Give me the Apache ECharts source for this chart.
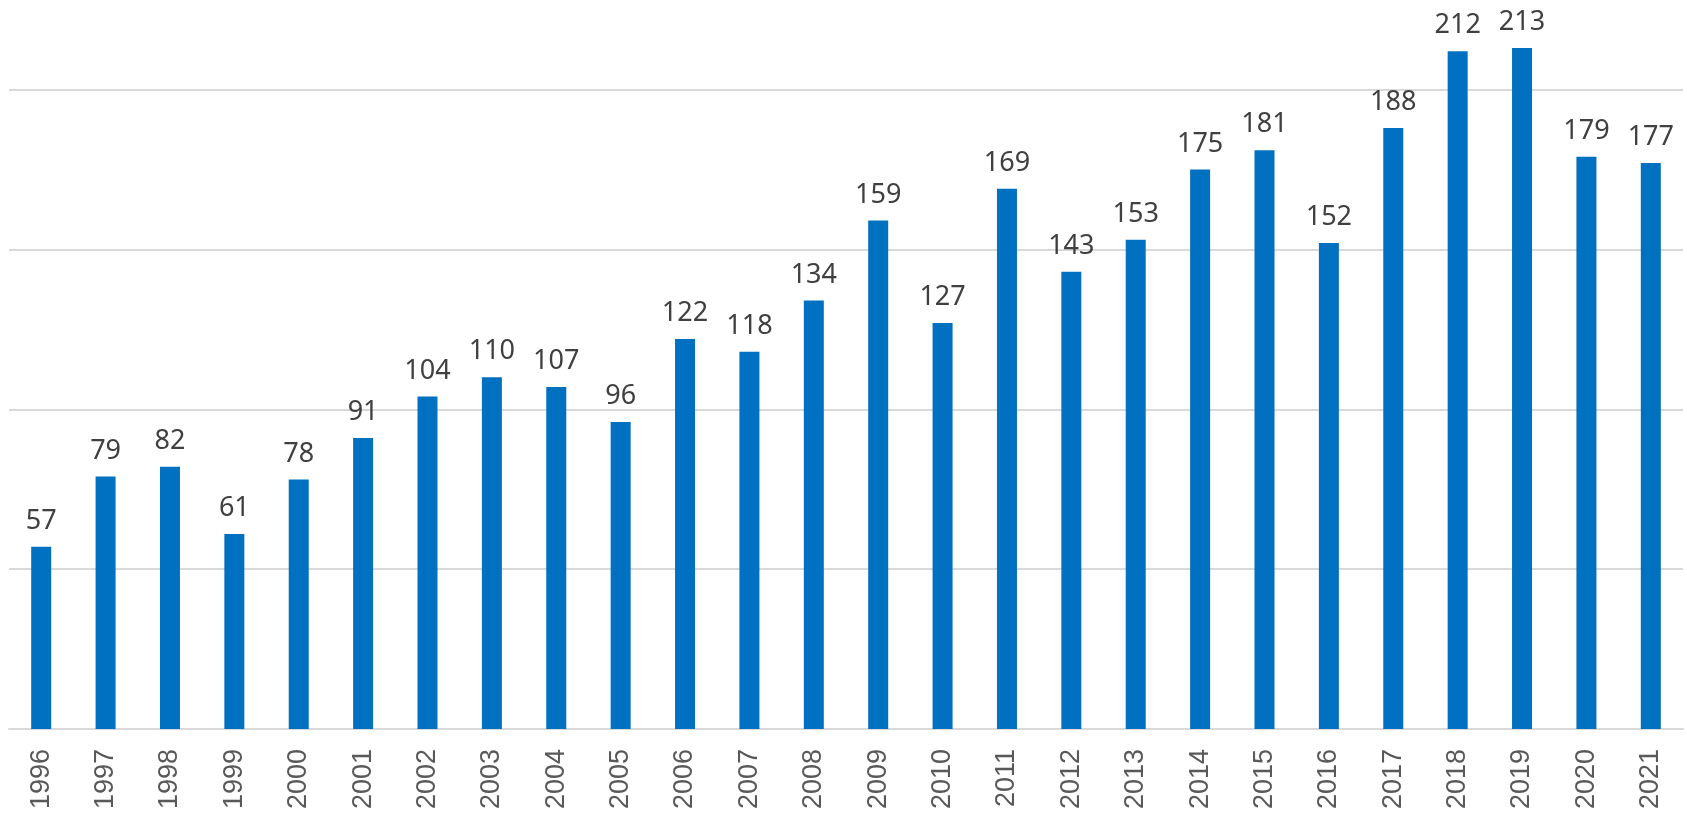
<!DOCTYPE html>
<html>
<head>
<meta charset="utf-8">
<script src="https://cdn.jsdelivr.net/npm/echarts@6/dist/echarts.min.js"></script>
<style>html,body{margin:0;padding:0;background:#fff;}#c{width:1687px;height:818px;}</style>
</head>
<body>
<div id="c"></div>
<script>
const years = ['1996','1997','1998','1999','2000','2001','2002','2003','2004','2005','2006','2007','2008','2009','2010','2011','2012','2013','2014','2015','2016','2017','2018','2019','2020','2021'];
const values = [57,79,82,61,78,91,104,110,107,96,122,118,134,159,127,169,143,153,175,181,152,188,212,213,179,177];

const chart = echarts.init(document.getElementById('c'));
chart.setOption({
  animation: false,
  backgroundColor: '#ffffff',
  grid: { left: 9, right: 4, top: 0, bottom: 89, containLabel: false },
  xAxis: {
    type: 'category',
    data: years,
    axisLine: { show: true, lineStyle: { color: '#d9d9d9', width: 2 } },
    axisTick: { show: false },
    axisLabel: {
      rotate: 90, margin: 20, color: '#595959',
      fontFamily: 'Liberation Sans', fontSize: 27, interval: 0
    }
  },
  yAxis: {
    type: 'value', min: 0, max: 228, interval: 50,
    axisLabel: { show: false },
    axisLine: { show: false },
    axisTick: { show: false },
    splitLine: { show: true, showMaxLine: false, lineStyle: { color: '#d9d9d9', width: 2 } }
  },
  series: [{
    type: 'bar',
    data: values,
    barWidth: 20,
    itemStyle: { color: '#0070C0' },
    label: {
      show: true, position: 'top', distance: 12,
      color: '#404040', fontFamily: 'Noto Sans', fontSize: 27
    }
  }]
});
</script>
</body>
</html>
